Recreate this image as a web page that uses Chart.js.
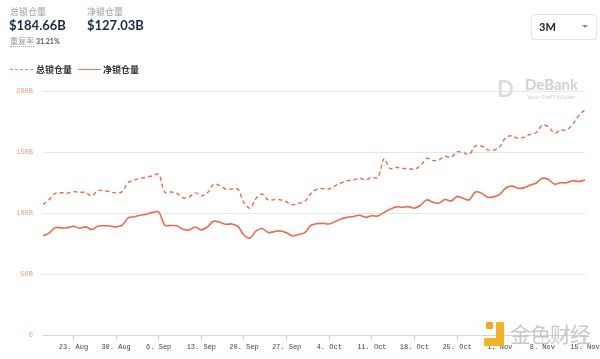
<!DOCTYPE html>
<html>
<head>
<meta charset="utf-8">
<script src="https://cdn.jsdelivr.net/npm/chart.js@4.4.0/dist/chart.umd.min.js"></script>
<style>
html,body{margin:0;padding:0;background:#fff;width:600px;height:359px;overflow:hidden;font-family:Lato,"Noto Sans CJK SC",sans-serif;}
#wrap{position:relative;width:600px;height:359px;}
canvas{position:absolute;left:0;top:0;}
.abs{position:absolute;white-space:nowrap;}
.lbl{font-size:9px;color:#9a9aa6;font-family:"Noto Sans CJK SC",sans-serif;}
.val{font-size:13px;font-weight:bold;color:#192945;font-family:Lato,sans-serif;}
.leg{font-size:9px;font-weight:bold;color:#333;font-family:"Noto Sans CJK SC",sans-serif;}
</style>
</head>
<body>
<div id="wrap">
<canvas id="c" width="600" height="359"></canvas>
<div class="abs lbl" style="left:10px;top:5px;">总锁仓量</div>
<div class="abs val" style="left:9px;top:17px;">$184.66B</div>
<div class="abs lbl" style="left:87px;top:5px;">净锁仓量</div>
<div class="abs val" style="left:87px;top:17px;">$127.03B</div>
<div class="abs lbl" style="left:10px;top:36px;font-size:8px;border-bottom:1px dotted #aaa;line-height:10px;">重复率</div>
<div class="abs" style="left:36px;top:37px;font-size:7px;color:#555;font-family:Lato,sans-serif;font-weight:bold;">31.21%</div>
<div class="abs" style="left:531px;top:14px;width:64px;height:24px;border:1px solid #e2e2e2;border-radius:3px;"></div>
<div class="abs" style="left:539px;top:20px;font-size:11px;color:#222;font-family:Lato,sans-serif;font-weight:bold;">3M</div>
<div class="abs" style="left:582px;top:25px;width:0;height:0;border-left:3px solid transparent;border-right:3px solid transparent;border-top:3px solid #888;"></div>
<div class="abs" style="left:10px;top:69px;width:23px;border-top:1.5px dashed #ef8a6c;"></div>
<div class="abs leg" style="left:36px;top:63px;">总锁仓量</div>
<div class="abs" style="left:78px;top:69px;width:23px;border-top:1.5px solid #ef7a58;"></div>
<div class="abs leg" style="left:103px;top:63px;">净锁仓量</div>
<div class="abs" style="left:497px;top:78px;font-size:22px;font-weight:bold;color:#dcdcdc;font-family:Lato,sans-serif;line-height:22px;">D</div>
<div class="abs" style="left:525px;top:77px;font-size:15px;font-weight:bold;color:#d0d0d0;font-family:Lato,sans-serif;line-height:15px;">DeBank</div>
<div class="abs" style="left:527px;top:93px;font-size:6.5px;color:#d0d0d0;font-family:Lato,sans-serif;">Your DeFi Wallet</div>
<div class="abs" style="left:486px;top:322px;width:7px;height:7px;background:#f5a623;border-radius:1px;"></div>
<div class="abs" style="left:496px;top:322px;width:8px;height:22px;background:#f5b323;border-radius:1px;"></div>
<div class="abs" style="left:484px;top:338px;width:20px;height:8px;background:#f5b323;border-radius:1px;"></div>
<div class="abs" style="left:510px;top:320px;font-size:21px;color:rgba(190,190,190,0.85);font-family:'Noto Sans CJK SC',sans-serif;line-height:26px;letter-spacing:-1px;">金色财经</div>
</div>
<script>
// Dates: daily, 18 Aug 2021 .. 15 Nov 2021 (index 0..89)
const startDate = [2021, 7, 18];
const tickDays = [5, 12, 19, 26, 33, 40, 47, 54, 61, 68, 75, 82, 89];
const tickLabels = ["23. Aug","30. Aug","6. Sep","13. Sep","20. Sep","27. Sep","4. Oct","11. Oct","18. Oct","25. Oct","1. Nov","8. Nov","15. Nov"];
const yTicks = [0, 50, 100, 150, 200];
const yTickLabels = ["0","50B","100B","150B","200B"];

const totalLocked = [107,111,116,116.6,116.2,117.5,117,116.8,114,118.3,
118.2,117.5,116.3,117.5,125,127,128.4,129.3,130.5,131.6,
117,117.2,116,112.5,113.2,116.5,114,116.5,123.5,122.6,
119.6,119.7,119.5,108.5,104,112,115.5,110.5,111,110.8,
109,106.8,108,109.5,116,119.6,120,119.7,122.5,124.8,
126.4,127,128.5,127.2,129.3,129,144.5,136.5,137.5,136.6,
136.4,135.8,139,144.8,143,143.5,146.5,145.7,150.2,149.4,
148.2,155,154.9,151.8,151.5,154.3,162,163.3,161.2,162.2,
164.5,166,172,170.7,165.5,168,168,173,180,184.66];

const netLocked = [81.4,83.5,88,87.8,87.8,89.2,87.6,88.6,86.5,89.2,
89.5,89.4,88.6,90,96,97,98.2,99,100.5,100.8,
90,89.8,89.5,86.6,86.1,88.5,86.2,88.6,93.2,92.4,
90.8,91,89,82,79.5,85.3,87.3,84,84.7,85.3,
83.8,81.2,82.5,83.9,89.8,91.3,91.5,91,93,95.3,
96.5,97.2,98.2,96.4,97.8,97.5,100.5,103,105,104.7,
105.2,104,106.5,110.7,108.9,108,111,109.8,113.4,112,
110.8,117.2,116.3,112.9,113.3,115.3,120.5,122,120.3,120.6,
123,124.6,128.4,127.5,123.6,124.8,124.8,126.4,125.8,127.03];

const toXY = arr => arr.map((v, i) => ({x: i, y: v}));
const lineColor = '#ee6a48';

new Chart(document.getElementById('c'), {
  type: 'line',
  data: {
    datasets: [
      {label: '总锁仓量', data: toXY(totalLocked), borderColor: lineColor, borderWidth: 1.4, borderDash: [4, 3], pointRadius: 0, tension: 0.35, fill: false},
      {label: '净锁仓量', data: toXY(netLocked), borderColor: lineColor, borderWidth: 1.6, pointRadius: 0, tension: 0.35, fill: false}
    ]
  },
  options: {
    responsive: false,
    animation: false,
    events: [],
    layout: {padding: {left: 0, right: 15, top: 91, bottom: 0}},
    plugins: {legend: {display: false}, tooltip: {enabled: false}},
    scales: {
      x: {
        type: 'linear', min: 0, max: 89,
        afterBuildTicks: s => { s.ticks = tickDays.map(v => ({value: v})); },
        afterFit: s => { s.paddingRight = 0; s.paddingLeft = 0; s.height = 24; },
        ticks: {
          autoSkip: false, maxRotation: 0, padding: 2,
          color: '#444', font: {family: '"Liberation Mono", monospace', size: 7},
          callback: v => { const k = tickDays.indexOf(v); return k >= 0 ? tickLabels[k] : ''; }
        },
        grid: {drawOnChartArea: false, drawTicks: true, tickLength: 6, color: '#ccd6eb'},
        border: {display: true, color: '#ccd6eb'}
      },
      y: {
        min: 0, max: 200,
        afterBuildTicks: s => { s.ticks = yTicks.map(v => ({value: v})); },
        afterFit: s => { s.width = 43; s.paddingTop = 0; s.paddingBottom = 0; },
        ticks: {
          padding: 10, color: '#f09a80',
          font: {family: '"Liberation Mono", monospace', size: 7},
          callback: v => { const k = yTicks.indexOf(v); return k >= 0 ? yTickLabels[k] : ''; }
        },
        grid: {color: '#e6e6e6', drawTicks: false},
        border: {display: false}
      }
    }
  }
});
</script>
</body>
</html>
